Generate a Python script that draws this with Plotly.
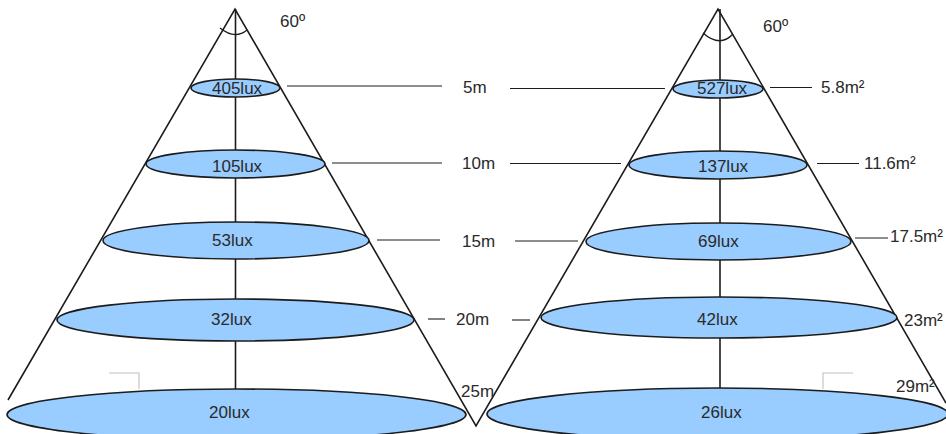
import plotly.graph_objects as go

# Values shown on the diagram
left_lux = ["405lux", "105lux", "53lux", "32lux", "20lux"]
right_lux = ["527lux", "137lux", "69lux", "42lux", "26lux"]
distances = ["5m", "10m", "15m", "20m", "25m"]
areas = ["5.8m²", "11.6m²", "17.5m²", "23m²", "29m²"]
angle_label = "60º"

# Diagram geometry, in picture pixels
left_ellipses = [(191, 79, 280, 97), (146, 150, 325, 178), (103, 222, 369, 259), (57, 299, 414, 341), (7, 389, 466, 440)]
right_ellipses = [(673, 80, 763, 98), (629, 151, 807, 179), (586, 223, 851, 260), (541, 297, 897, 338), (487, 388, 948, 440)]
left_lux_pos = [(237, 88), (237, 166), (232, 240), (231, 319), (229, 412)]
right_lux_pos = [(722, 88), (723, 166), (718, 241), (717, 319), (721, 412)]
dist_pos = [(475, 87), (478, 163), (478, 241), (472, 319), (477, 391)]
area_pos = [(843, 87), (890, 163), (916, 236), (923, 320), (915, 386)]
angle_pos = [(292, 21), (775, 26)]

cone_lines = [
    [(8, 400), (235, 9), (476, 426), (718, 9), (946, 403)],
    [(235.5, 9), (235.5, 395)],
    [(720, 9), (720, 395)],
]
leader_lines = [
    [(287, 86), (442, 86)], [(332, 163), (442, 163)], [(377, 240), (440, 240)], [(428, 319), (445, 319)],
    [(510, 88.5), (665, 88.5)], [(510, 163.5), (621, 163.5)], [(515, 241), (578, 241)], [(512, 320), (530, 320)],
    [(770, 87.5), (812, 87.5)], [(817, 163.5), (859, 163.5)], [(855, 238), (888, 238)],
]
corner_lines = [
    [(109, 373), (139, 373), (139, 389)],
    [(823, 389), (823, 373), (853, 373)],
]
arcs = ["M220,28 Q235,40 247,30", "M703,33 Q720,48 733,34"]

INK = "#1c1c1c"
TEXT = "#2a2a2a"
FILL = "#99ccff"

fig = go.Figure()


def add_line(points, color, width):
    fig.add_trace(go.Scatter(
        x=[p[0] for p in points], y=[p[1] for p in points], mode="lines",
        line=dict(color=color, width=width), hoverinfo="skip", showlegend=False,
    ))


for seg in cone_lines:
    add_line(seg, INK, 1.6)
for seg in leader_lines:
    add_line(seg, INK, 1.1)
for seg in corner_lines:
    add_line(seg, "#c0c0c0", 1.1)

for x0, y0, x1, y1 in left_ellipses + right_ellipses:
    fig.add_shape(type="circle", xref="x", yref="y", x0=x0, y0=y0, x1=x1, y1=y1,
                  fillcolor=FILL, line=dict(color=INK, width=1.6))
for path in arcs:
    fig.add_shape(type="path", xref="x", yref="y", path=path, line=dict(color=INK, width=1.3))

labels = (list(zip(left_lux, left_lux_pos)) + list(zip(right_lux, right_lux_pos))
          + list(zip(distances, dist_pos)) + list(zip(areas, area_pos))
          + [(angle_label, p) for p in angle_pos])
for text, (x, y) in labels:
    fig.add_annotation(x=x, y=y, text=text, showarrow=False, xanchor="center", yanchor="middle",
                       font=dict(family="Liberation Sans", size=17, color=TEXT))

fig.update_layout(
    width=946, height=434, margin=dict(l=0, r=0, t=0, b=0),
    paper_bgcolor="white", plot_bgcolor="white", showlegend=False,
    xaxis=dict(range=[0, 946], visible=False, fixedrange=True),
    yaxis=dict(range=[434, 0], visible=False, fixedrange=True),
)
fig.write_html(
    "out.html",
    config={"displayModeBar": False},
    post_script="document.body.style.margin='0';document.body.style.overflow='hidden';",
)
